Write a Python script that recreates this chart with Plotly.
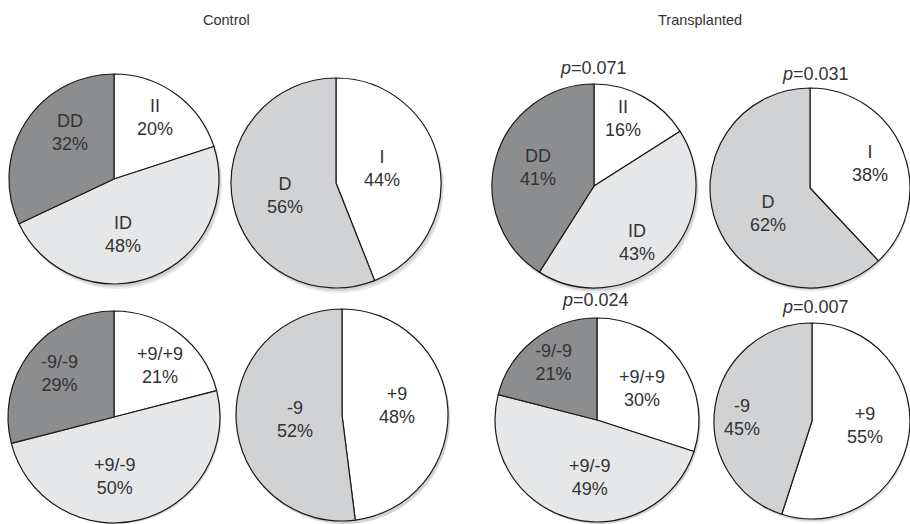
import plotly.graph_objects as go

W, H = 910, 524

# Genotype / allele frequencies (%)
geno_labels = ["II", "ID", "DD"]
allele_labels = ["I", "D"]
snp_geno_labels = ["+9/+9", "+9/-9", "-9/-9"]
snp_allele_labels = ["+9", "-9"]

control_geno = [20, 48, 32]
control_allele = [44, 56]
control_snp_geno = [21, 50, 29]
control_snp_allele = [48, 52]

transpl_geno = [16, 43, 41]
transpl_allele = [38, 62]
transpl_snp_geno = [30, 49, 21]
transpl_snp_allele = [55, 45]

p_values = ["0.071", "0.031", "0.024", "0.007"]

geno_colors = ["#ffffff", "#e6e7e8", "#8c8d8f"]
allele_colors = ["#ffffff", "#d1d2d4"]

FONT = "Liberation Sans, Arial, sans-serif"
TEXT = "#333333"

# pie layout: centre and radius in pixels, plus slice-label anchor points
pies = [
    (control_geno, geno_labels, geno_colors, (114, 179, 105),
     [(155, 117), (123, 234), (70, 133)]),
    (control_allele, allele_labels, allele_colors, (336, 183, 105),
     [(382, 168), (285, 195)]),
    (transpl_geno, geno_labels, geno_colors, (594, 186, 102),
     [(623, 118), (637, 242), (538, 167)]),
    (transpl_allele, allele_labels, allele_colors, (810, 188, 100),
     [(870, 163), (768, 213)]),
    (control_snp_geno, snp_geno_labels, geno_colors, (114, 417, 106),
     [(160, 365), (115, 476), (59, 373)]),
    (control_snp_allele, snp_allele_labels, allele_colors, (342, 415, 106),
     [(397, 405), (295, 419)]),
    (transpl_snp_geno, snp_geno_labels, geno_colors, (597, 420, 102),
     [(642, 388), (590, 477), (553, 362)]),
    (transpl_snp_allele, snp_allele_labels, allele_colors, (812, 421, 98),
     [(865, 425), (742, 417)]),
]


def domain(cx, cy, r):
    return dict(x=[max(0, (cx - r) / W), min(1, (cx + r) / W)],
                y=[max(0, 1 - (cy + r) / H), min(1, 1 - (cy - r) / H)])


fig = go.Figure()
annotations = []
for vals, labs, cols, (cx, cy, r), label_pos in pies:
    # soft drop shadow behind the pie
    for dx, dy, c in [(3, 5, "#ebebeb"), (2, 3, "#d4d4d4")]:
        fig.add_trace(go.Pie(
            values=[1], sort=False, marker=dict(colors=[c], line=dict(width=0)),
            textinfo="none", hoverinfo="skip", showlegend=False,
            domain=domain(cx + dx, cy + dy, r),
        ))
    fig.add_trace(go.Pie(
        values=vals, labels=labs, sort=False, direction="clockwise", rotation=0,
        marker=dict(colors=cols, line=dict(color="#1a1a1a", width=1.2)),
        textinfo="none", hoverinfo="label+value", showlegend=False,
        domain=domain(cx, cy, r),
    ))
    for lab, v, (lx, ly) in zip(labs, vals, label_pos):
        annotations.append(dict(
            text=f"{lab}<br>{v}%", x=lx / W, y=1 - ly / H,
            font=dict(family=FONT, size=18, color=TEXT),
        ))

annotations += [
    dict(text="Control", x=226 / W, y=1 - 20 / H, font=dict(family=FONT, size=14.5, color=TEXT)),
    dict(text="Transplanted", x=700 / W, y=1 - 20 / H, font=dict(family=FONT, size=14.5, color=TEXT)),
]
p_pos = [(593, 68), (815, 74), (595, 300), (815, 307)]
for p, (px, py) in zip(p_values, p_pos):
    annotations.append(dict(text="<i>p</i>=" + p, x=px / W, y=1 - py / H,
                            font=dict(family=FONT, size=18, color=TEXT)))
for a in annotations:
    a.update(xref="paper", yref="paper", showarrow=False, xanchor="center", yanchor="middle")

fig.update_layout(
    width=W, height=H, margin=dict(l=0, r=0, t=0, b=0),
    paper_bgcolor="white", plot_bgcolor="white",
    annotations=annotations,
)
fig.write_html("out.html")
